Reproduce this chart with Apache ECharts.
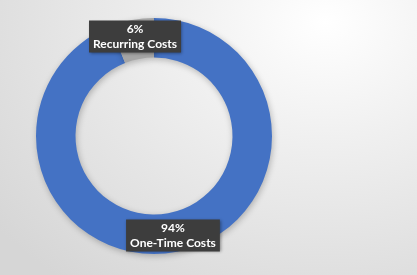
<!DOCTYPE html>
<html><head><meta charset="utf-8">
<script src="https://cdn.jsdelivr.net/npm/echarts@6/dist/echarts.min.js"></script>
<style>
html,body{margin:0;padding:0;}
#c{width:417px;height:275px;background:radial-gradient(ellipse 420px 330px at 78% 8%, #ffffff 0%, #f0f0f0 35%, #d6d6d6 100%);}
</style></head><body>
<div id="c"></div>
<script>
const categories = ["One-Time Costs", "Recurring Costs"];
const values = [94, 6];
const colors = ["#4472C4", "#A5A5A5"];

const chart = echarts.init(document.getElementById('c'), null, {renderer:'canvas'});
chart.setOption({
  animation: false,
  series: [{
    type: 'pie',
    center: [154, 136],
    radius: [78.5, 118],
    startAngle: 90,
    clockwise: true,
    avoidLabelOverlap: false,
    data: categories.map((n, i) => ({name: n, value: values[i], itemStyle: {color: colors[i]}})),
    itemStyle: {shadowBlur: 6, shadowColor: 'rgba(0,0,0,0.25)', shadowOffsetX: 1, shadowOffsetY: 2},
    label: {
      show: true,
      position: 'inside',
      formatter: p => p.value + '%\n' + p.name,
      color: '#ffffff',
      fontFamily: 'Lato',
      fontWeight: 'bold',
      fontSize: 12,
      lineHeight: 15,
      align: 'center',
      backgroundColor: '#3d3d3d',
      padding: [1, 4, 1, 4],
      shadowBlur: 3,
      shadowColor: 'rgba(0,0,0,0.4)',
      shadowOffsetX: 1,
      shadowOffsetY: 1
    },
    labelLine: {show: false},
    emphasis: {disabled: true}
  }]
});
</script>
</body></html>
